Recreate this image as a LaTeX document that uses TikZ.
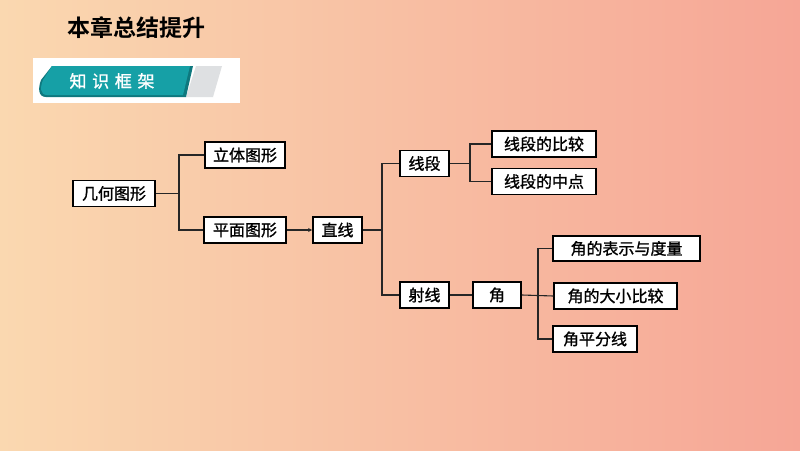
\documentclass[tikz,border=0pt]{standalone}
\usepackage{fontspec}
\newfontfamily\cjk[FakeBold=1.2]{Noto Sans CJK SC}
\newfontfamily\cjkb{Noto Sans CJK SC Bold}
\usetikzlibrary{arrows.meta}
\definecolor{bgL}{RGB}{250,216,176}
\definecolor{bgR}{RGB}{246,166,150}
\definecolor{teal1}{RGB}{22,160,166}
\definecolor{teal2}{RGB}{14,120,126}
\definecolor{gray1}{RGB}{222,224,226}
\begin{document}
\begin{tikzpicture}[x=1pt,y=-1pt,
  box/.style={draw=black,line width=1.8pt,fill=white,inner sep=0pt,minimum height=26pt,font=\cjk\fontsize{16}{16}\selectfont},
  tbox/.style={box,line width=1.1pt},
  conn/.style={line width=1.1pt,draw=black!85}]
\shade[left color=bgL,right color=bgR] (0,0) rectangle (800,450);
\useasboundingbox (0,0) rectangle (800,450);
% title
\node[font=\cjkb\fontsize{23}{23}\selectfont,anchor=west] (title) at (64,28) {本章总结提升};
% banner
\fill[white] (33,58) rectangle (240,103);
\fill[gray1] (196,66) -- (222,66) -- (213,97) -- (186,97) -- cycle;
\fill[teal2] (52,66) -- (193,66) -- (186,97) -- (46,97) .. controls (38,97) and (38,88) .. (41,80) -- cycle;
\fill[teal1] (52,66) -- (190,66) -- (183,95) -- (47,95) .. controls (40,95) and (40,87) .. (43,80) -- cycle;
\node[white,font=\cjk\fontsize{17}{17}\selectfont] (banner) at (112,81) {知\,\,识\,\,框\,\,架};
% nodes
\node[box,minimum width=82pt] (jh) at (114,193.5) {几何图形};
\node[tbox,minimum width=80pt] (lt) at (245,155) {立体图形};
\node[box,minimum width=82pt] (pm) at (245,230) {平面图形};
\node[box,minimum width=49pt] (zx) at (337.5,230) {直线};
\node[box,minimum width=49pt] (xd) at (424.5,163.5) {线段};
\node[box,minimum width=104pt] (xd1) at (544,144) {线段的比较};
\node[box,minimum width=104pt] (xd2) at (544,181.5) {线段的中点};
\node[box,minimum width=49pt] (sx) at (424.5,295) {射线};
\node[box,minimum width=48pt] (j) at (497,295) {角};
\node[tbox,minimum width=147pt,minimum height=25pt] (j1) at (626.5,248.5) {角的表示与度量};
\node[tbox,minimum width=123pt] (j2) at (615.5,296) {角的大小比较};
\node[tbox,minimum width=84pt] (j3) at (595,339) {角平分线};
% connectors
\coordinate (c1) at (179,193.5);
\draw[conn] (jh.east) -- (c1);
\draw[conn] (lt.west) -| (c1) |- (pm.west);
\draw[conn,-{Stealth[length=4pt,width=4pt]}] (pm.east) -- (zx.west);
\coordinate (c2) at (382,230);
\draw[conn] (zx.east) -- (c2);
\draw[conn] (xd.west) -| (c2) |- (sx.west);
\coordinate (c3) at (470,163.5);
\draw[conn] (xd.east) -- (c3);
\draw[conn] (xd1.west) -| (c3) |- (xd2.west);
\draw[conn] (sx.east) -- (j.west);
\coordinate (c4) at (538,296);
\draw[conn] (j.east) -- (j2.west);
\draw[conn] (j1.west) -| (c4) |- (j3.west);
\end{tikzpicture}
\end{document}
